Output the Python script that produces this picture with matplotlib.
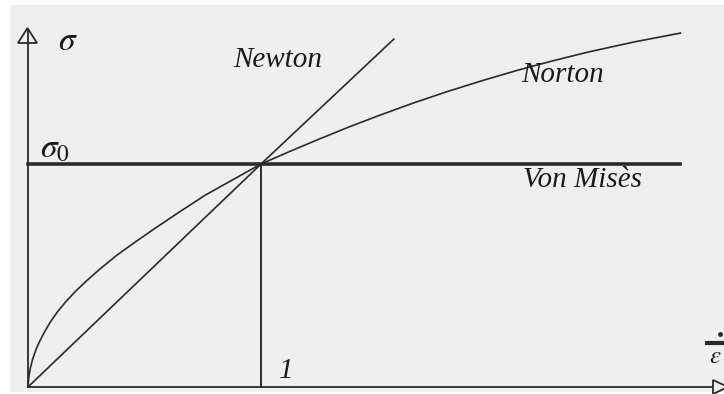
import matplotlib.pyplot as plt
from matplotlib.patches import Rectangle, Polygon

plt.rcParams['mathtext.fontset'] = 'stix'

# Strain rate (normalised) and stress values for each law
rate_newton = [0.0, 1.0, 1.57]
stress_newton = [0.0, 1.0, 1.56]

rate_norton = [0.0, 0.002, 0.005, 0.01, 0.02, 0.035, 0.05, 0.07, 0.095, 0.125, 0.16,
               0.2, 0.25, 0.31, 0.38, 0.46, 0.55, 0.65, 0.76, 0.88, 1.0,
               1.125, 1.25, 1.375, 1.5, 1.65, 1.8, 1.95, 2.1, 2.25, 2.4, 2.6, 2.8]
stress_norton = [0.0, 0.03, 0.055, 0.085, 0.125, 0.17, 0.205, 0.245, 0.29, 0.335, 0.38,
                 0.425, 0.475, 0.53, 0.59, 0.65, 0.715, 0.785, 0.86, 0.93, 1.0,
                 1.057, 1.112, 1.165, 1.215, 1.272, 1.325, 1.374, 1.42, 1.462, 1.501,
                 1.547, 1.587]

rate_vonmises = [0.0, 2.8]
stress_vonmises = [1.0, 1.0]

sigma0 = 1.0
rate_ref = 1.0

W, H = 724, 394
ox, oy = 28, 387          # origin in pixels
sx, sy = 233, 223         # pixels per unit

fig = plt.figure(figsize=(W / 100, H / 100), dpi=100)
fig.patch.set_facecolor('white')

ax = fig.add_axes([0, 0, 1, 1])
ax.set_xlim(-ox / sx, (W - ox) / sx)
ax.set_ylim(-(H - oy) / sy, oy / sy)
ax.axis('off')

# grey drawing area
ax.add_patch(Rectangle((10 / W, 2 / H), (W - 10) / W, 387 / H, transform=fig.transFigure,
                       facecolor='#efefef', edgecolor='none', zorder=0))

def px(x, y):
    return (x - ox) / sx, (oy - y) / sy

dark = '#2a2a2a'
serif = dict(family='Liberation Serif', style='italic', color='#1a1a1a')

# axes with open arrow heads
ax.plot([0, px(714, 0)[0]], [0, 0], color=dark, lw=1.3, zorder=2)
ax.add_patch(Polygon([px(18, 43), px(37, 43), px(27.5, 28)], closed=True,
                     facecolor='#efefef', edgecolor=dark, lw=1.3, zorder=3))
ax.add_patch(Polygon([px(713, 380), px(713, 394), px(728, 387)], closed=True,
                     facecolor='#efefef', edgecolor=dark, lw=1.3, zorder=3))
ax.plot([0, 0], [0, px(0, 30)[1]], color=dark, lw=1.3, zorder=4)

# constitutive laws
ax.plot(rate_vonmises, stress_vonmises, color=dark, lw=2.6, zorder=2)
ax.plot(rate_newton, stress_newton, color=dark, lw=1.2, zorder=2)
ax.plot(rate_norton, stress_norton, color=dark, lw=1.2, zorder=2,
        solid_joinstyle='round')
ax.plot([rate_ref, rate_ref], [0, sigma0], color=dark, lw=1.4, zorder=2)

# labels
ax.text(*px(58, 50), r'$\sigma$', fontsize=24, **serif)
ax.text(*px(40, 158), r'$\sigma_{\mathit{0}}$', fontsize=24, **serif)
ax.text(*px(233, 67), 'Newton', fontsize=21, **serif)
ax.text(*px(521, 82), 'Norton', fontsize=21, **serif)
ax.text(*px(523, 187), 'Von Misès', fontsize=21, **serif)
ax.text(*px(279, 378), '1', fontsize=21, **serif)
ax.text(*px(709, 363), r'$\varepsilon$', fontsize=18, **serif)
ax.plot([px(707, 0)[0], px(724, 0)[0]], [px(0, 343)[1]] * 2, color=dark, lw=3, clip_on=False)
ax.plot([px(720, 0)[0]], [px(0, 334)[1]], 'o', color=dark, ms=2.5)

fig.savefig('out.png', dpi=100, facecolor='white')
